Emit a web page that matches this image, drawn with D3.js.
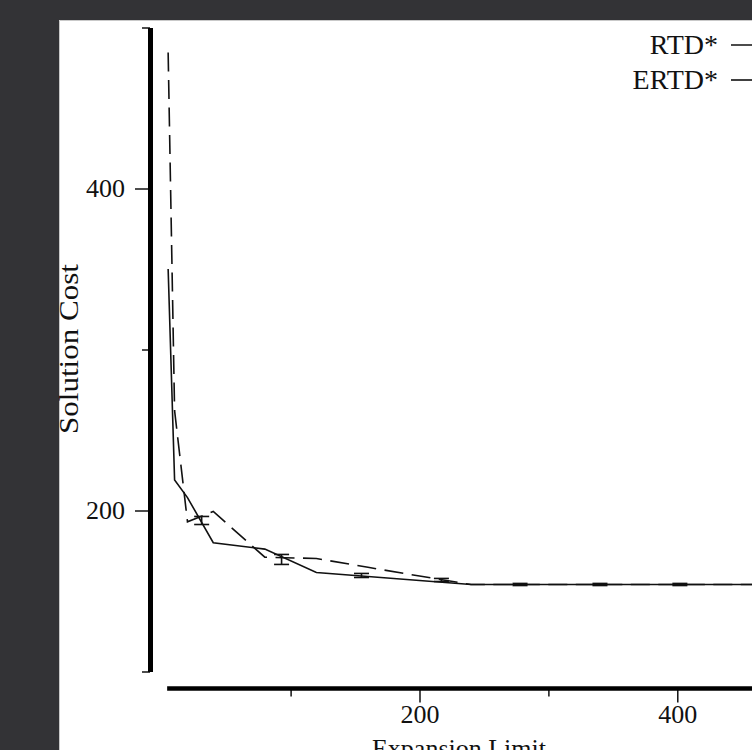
<!DOCTYPE html>
<html>
<head>
<meta charset="utf-8">
<script src="https://cdn.jsdelivr.net/npm/d3@7"></script>
<style>
  body { margin: 0; background: #333336; }
  text { font-family: "Liberation Serif", "DejaVu Serif", serif; fill: #111; }
</style>
</head>
<body>
<script>
// expansion limit on x, solution cost on y
var expansionRTD = [5, 10, 20, 40, 80, 120, 160, 200, 240, 280, 320, 360, 400, 440, 480, 500];
var costRTD      = [350, 219, 208, 180, 176, 161.5, 159, 156.5, 154, 154, 154, 154, 154, 154, 154, 154];

var expansionERTD = [5, 10, 20, 40, 80, 120, 160, 200, 240, 280, 320, 360, 400, 440, 480, 500];
var costERTD      = [484.5, 262, 193, 199.4, 171, 170.2, 164.7, 159.3, 154, 154, 154, 154, 154, 154, 154, 154];

// error bars (low / high)
var errX    = [31, 93, 155, 217, 278, 340, 402];
var errLow  = [191.3, 166.5, 158.4, 155.9, 153.4, 153.4, 153.4];
var errHigh = [196.3, 172.7, 160.9, 157.8, 154.7, 154.7, 154.7];

var seriesNames = ["RTD*", "ERTD*"];
var xMajor = [200, 400], xMinor = [100, 300, 500];
var yMajor = [200, 400], yMinor = [100, 300, 500];

var W = 752, H = 750;
var dash = "19,8.5";

var svg = d3.select("body").append("svg")
    .attr("width", W)
    .attr("height", H)
    .style("display", "block");

// dark frame + white page
svg.append("rect").attr("width", W).attr("height", H).attr("fill", "#333336");
svg.append("rect")
    .attr("x", 59).attr("y", 20)
    .attr("width", W - 59).attr("height", H - 20)
    .attr("fill", "white");
svg.append("path")
    .attr("d", "M59.5," + H + "V20.5H" + W)
    .attr("fill", "none")
    .attr("stroke", "#c9c9c9")
    .attr("stroke-width", 1);

var x = d3.scaleLinear().domain([0, 500]).range([161.7, 161.7 + 500 * 1.289]);
var y = d3.scaleLinear().domain([100, 500]).range([671.5, 27.5]);

// y axis, detached at x=150
var yAxisX = 150;
var gy = svg.append("g").attr("transform", "translate(" + yAxisX + ",0)");
gy.call(d3.axisLeft(y).tickValues(yMajor).tickSize(15).tickSizeOuter(0).tickPadding(10).tickFormat(d3.format("d")));
gy.append("g").call(d3.axisLeft(y).tickValues(yMinor).tickSize(8).tickFormat(""))
    .select(".domain").remove();
gy.select(".domain").attr("stroke", "black").attr("stroke-width", 5);
gy.selectAll(".tick line").attr("stroke", "black").attr("stroke-width", 1.4);
gy.selectAll(".tick text").attr("font-size", 26).attr("fill", "#111")
    .style("font-family", "'Liberation Serif', serif");

// x axis, detached at y=688.5
var xAxisY = 688.5;
var gx = svg.append("g").attr("transform", "translate(0," + xAxisY + ")");
gx.call(d3.axisBottom(x).tickValues(xMajor).tickSize(14).tickSizeOuter(0).tickPadding(2).tickFormat(d3.format("d")));
gx.append("g").call(d3.axisBottom(x).tickValues(xMinor).tickSize(8).tickFormat(""))
    .select(".domain").remove();
gx.select(".domain").remove();
gx.append("line")
    .attr("x1", x(expansionRTD[0]) - 1).attr("x2", x(500))
    .attr("stroke", "black").attr("stroke-width", 4.5);
gx.selectAll(".tick line").attr("stroke", "black").attr("stroke-width", 1.4);
gx.selectAll(".tick text").attr("font-size", 26).attr("fill", "#111")
    .style("font-family", "'Liberation Serif', serif");

// axis titles
svg.append("text")
    .attr("transform", "translate(" + 78 + "," + 349 + ") rotate(-90)")
    .attr("text-anchor", "middle")
    .attr("font-size", 28)
    .attr("textLength", 170)
    .attr("lengthAdjust", "spacingAndGlyphs")
    .text("Solution Cost");

// cut off by the page bottom, as in the scan
svg.append("text")
    .attr("x", 459)
    .attr("y", 757)
    .attr("text-anchor", "middle")
    .attr("font-size", 26)
    .text("Expansion Limit");

// lines
var line = d3.line()
    .x(function(d) { return x(d[0]); })
    .y(function(d) { return y(d[1]); });

var rtd = expansionRTD.map(function(v, i) { return [v, costRTD[i]]; });
var ertd = expansionERTD.map(function(v, i) { return [v, costERTD[i]]; });

svg.append("path")
    .datum(rtd)
    .attr("d", line)
    .attr("fill", "none")
    .attr("stroke", "#111")
    .attr("stroke-width", 1.6);

svg.append("path")
    .datum(ertd)
    .attr("d", line)
    .attr("fill", "none")
    .attr("stroke", "#111")
    .attr("stroke-width", 1.6)
    .attr("stroke-dasharray", dash);

// error bars
var errData = errX.map(function(v, i) { return {x: v, lo: errLow[i], hi: errHigh[i]}; });
var eb = svg.selectAll(".err").data(errData).enter().append("g").attr("class", "err")
    .attr("stroke", "#111").attr("stroke-width", 1.6);
eb.append("line")
    .attr("x1", function(d) { return x(d.x); }).attr("x2", function(d) { return x(d.x); })
    .attr("y1", function(d) { return y(d.lo); }).attr("y2", function(d) { return y(d.hi); });
eb.append("line")
    .attr("x1", function(d) { return x(d.x) - 7.5; }).attr("x2", function(d) { return x(d.x) + 7.5; })
    .attr("y1", function(d) { return y(d.lo); }).attr("y2", function(d) { return y(d.lo); });
eb.append("line")
    .attr("x1", function(d) { return x(d.x) - 7.5; }).attr("x2", function(d) { return x(d.x) + 7.5; })
    .attr("y1", function(d) { return y(d.hi); }).attr("y2", function(d) { return y(d.hi); });

// legend, top right
var legend = svg.selectAll(".legend").data(seriesNames).enter().append("g")
    .attr("class", "legend")
    .attr("transform", function(d, i) { return "translate(0," + (45 + i * 35) + ")"; });
legend.append("text")
    .attr("x", 718)
    .attr("y", 8.5)
    .attr("text-anchor", "end")
    .attr("font-size", 28)
    .text(function(d) { return d; });
legend.append("line")
    .attr("x1", 731).attr("x2", 790)
    .attr("stroke", "#111").attr("stroke-width", 1.6)
    .attr("stroke-dasharray", function(d, i) { return i == 1 ? "24,8.5" : null; });
</script>
</body>
</html>
